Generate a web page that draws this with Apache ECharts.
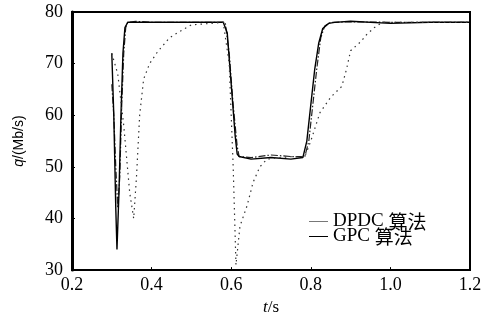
<!DOCTYPE html>
<html><head><meta charset="utf-8">
<script src="https://cdn.jsdelivr.net/npm/echarts@6/dist/echarts.min.js"></script>
<style>html,body{margin:0;padding:0;background:#fff}#c{width:485px;height:321px}</style>
</head><body><div id="c"></div>
<script>
// data
const xTicks = [0.2, 0.4, 0.6, 0.8, 1.0, 1.2];
const yTicks = [30, 40, 50, 60, 70, 80];

const tGPC = [0.30,0.305,0.31,0.313,0.318,0.323,0.328,0.333,0.34,0.40,0.50,0.58,0.59,0.60,0.61,0.615,0.62,0.65,0.70,0.75,0.78,0.79,0.80,0.81,0.82,0.83,0.845,0.86,0.9,1.0,1.1,1.2];
const qGPC = [72,60,42,34,45,60,72,77,78,78,78,78,76,66,56,52.5,52,51.5,51.8,51.5,51.8,55,62,69,74,76.8,77.8,78,78.2,77.8,78,78];

const tDPDC = [0.30,0.305,0.31,0.315,0.32,0.325,0.33,0.335,0.34,0.36,0.40,0.50,0.585,0.595,0.605,0.615,0.62,0.65,0.70,0.75,0.785,0.795,0.805,0.815,0.825,0.835,0.85,0.9,1.0,1.1,1.2];
const qDPDC = [66,60,50,42,48,62,72,77,78,78.2,78,78,78,72,62,54,52,51.8,52.3,52,52,55,62,69,75,77.3,78,78.1,78,78,78];

const tRef = [0.30,0.315,0.33,0.345,0.355,0.362,0.37,0.38,0.395,0.415,0.445,0.47,0.50,0.58,0.595,0.605,0.612,0.622,0.64,0.655,0.672,0.69,0.75,0.785,0.80,0.823,0.85,0.878,0.89,0.90,0.925,0.94,0.96,0.98,1.2];
const qRef = [72,68,58,45,40,48,60,67,70,72.3,75,76.2,77.5,78,70,50,31,38.5,42.5,47,50,51.5,52,52,55,60.5,63.5,65.6,69,72.5,74.2,75.6,77,78,78];

const zip = (a, b) => a.map((v, i) => [v, b[i]]);
const serif = 'Liberation Serif';

const chart = echarts.init(document.getElementById('c'));
chart.setOption({
  backgroundColor: '#fff',
  animation: false,
  grid: { left: 72, right: 15, top: 12, bottom: 49, show: true, borderColor: '#000', borderWidth: 2 },
  xAxis: {
    type: 'value', min: xTicks[0], max: xTicks[xTicks.length - 1], interval: 0.2,
    name: '{i|t}/s', nameLocation: 'middle', nameGap: 28,
    nameTextStyle: { fontFamily: serif, fontSize: 17, color: '#000', rich: { i: { fontFamily: serif, fontStyle: 'italic', fontSize: 17, color: '#000' } } },
    axisLine: { show: true, lineStyle: { color: '#000', width: 2 } },
    axisTick: { show: true, inside: true, length: 3, lineStyle: { color: '#000' } },
    splitLine: { show: false },
    axisLabel: { fontFamily: serif, fontSize: 18, color: '#000', margin: 6, formatter: v => v.toFixed(1) }
  },
  yAxis: {
    type: 'value', min: yTicks[0], max: yTicks[yTicks.length - 1], interval: 10,
    name: '{i|q}/(Mb/s)', nameLocation: 'middle', nameGap: 46, nameRotate: 90,
    nameTextStyle: { fontFamily: 'Liberation Sans', fontSize: 14, color: '#000', rich: { i: { fontFamily: 'Liberation Sans', fontStyle: 'italic', fontSize: 14, color: '#000' } } },
    axisLine: { show: true, lineStyle: { color: '#000', width: 3 } },
    axisTick: { show: true, inside: true, length: 3, lineStyle: { color: '#000' } },
    minorTick: { show: true, splitNumber: 2, length: 2, lineStyle: { color: '#000' } },
    splitLine: { show: false },
    axisLabel: { fontFamily: serif, fontSize: 18, color: '#000', margin: 9 }
  },
  legend: {
    orient: 'vertical', left: 304, top: 207, itemGap: -4, itemWidth: 19, itemHeight: 1,
    icon: 'rect',
    textStyle: { fontFamily: serif, fontSize: 19, lineHeight: 16, color: '#000',
      rich: { c: { fontFamily: 'Noto Sans CJK SC', fontSize: 19, lineHeight: 16, color: '#000' } } },
    formatter: n => n.replace(' 算法', ' {c|算法}'),
    data: [
      { name: 'DPDC 算法', itemStyle: { color: '#777', borderWidth: 0 } },
      { name: 'GPC 算法', itemStyle: { color: '#000', borderWidth: 0 } }
    ]
  },
  series: [
    { name: 'DPDC 算法', type: 'line', data: zip(tDPDC, qDPDC), showSymbol: false, symbol: 'none',
      lineStyle: { color: '#222', width: 1.2, type: [7, 2, 1.5, 2] } },
    { name: 'GPC 算法', type: 'line', data: zip(tGPC, qGPC), showSymbol: false, symbol: 'none',
      lineStyle: { color: '#000', width: 1.4 } },
    { name: 'ref', type: 'line', data: zip(tRef, qRef), showSymbol: false, symbol: 'none',
      lineStyle: { color: '#333', width: 1.2, type: [1.5, 4] } }
  ]
});
</script></body></html>
